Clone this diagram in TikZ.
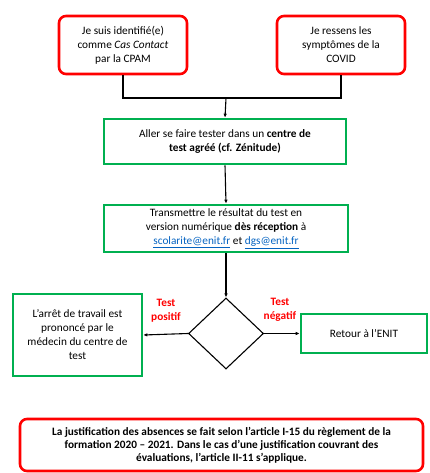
\documentclass[tikz,border=0pt]{standalone}
\usepackage{fontspec}
\setmainfont{Carlito}
\usetikzlibrary{arrows.meta, shapes.geometric}
\definecolor{rouge}{RGB}{255,0,0}
\definecolor{vert}{RGB}{0,176,80}
\definecolor{lien}{RGB}{5,99,193}
\def\lien#1{\textcolor{lien}{\underline{#1}}}
\tikzset{
  texte/.style={align=center, font=\fontsize{11.3}{14}\selectfont, inner sep=0pt},
  boiterouge/.style={texte, draw=rouge, line width=2.6pt, rounded corners=7pt},
  boiteverte/.style={texte, draw=vert, line width=2.6pt},
  etiquette/.style={texte, text=rouge, font=\fontsize{11.3}{14}\selectfont\bfseries},
  fleche/.style={-{Latex[length=4pt,width=3.5pt]}},
}

\begin{document}
\begin{tikzpicture}[x=1pt, y=-1pt, line width=1.1pt]
\useasboundingbox (0,0) rectangle (430,473);

\node[boiterouge, minimum width=128pt, minimum height=58pt] (cas) at (123,45)
  {Je suis identifié(e)\\comme \textit{Cas Contact}\\par la CPAM};
\node[boiterouge, minimum width=128pt, minimum height=58pt] (symptomes) at (341,45)
  {Je ressens les\\symptômes de la\\COVID};
\coordinate (jonction) at (226,98);

\node[boiteverte, minimum width=242pt, minimum height=45pt] (test) at (225,141.5)
  {Aller se faire tester dans un \textbf{centre de}\\\textbf{test agréé (cf. Zénitude)}};
\node[boiteverte, minimum width=244pt, minimum height=47pt] (resultat) at (226,228.5)
  {Transmettre le résultat du test en\\version numérique \textbf{dès réception} à\\\lien{scolarite@enit.fr} et \lien{dgs@enit.fr}};

\node[diamond, draw, minimum width=75pt, minimum height=71pt, inner sep=0pt] (choix) at (226,333.5) {};

\node[boiteverte, minimum width=129pt, minimum height=82pt] (arret) at (77.5,335)
  {L'arrêt de travail est\\prononcé par le\\médecin du centre de\\test};
\node[boiteverte, minimum width=126pt, minimum height=39pt] (retour) at (364,333.5)
  {Retour à l'ENIT};

\node[etiquette] (positif) at (166,311) {Test\\positif};
\node[etiquette] (negatif) at (280,310) {Test\\négatif};

\node[boiterouge, minimum width=403pt, minimum height=52pt, font=\fontsize{11.3}{12.8}\selectfont\bfseries] (regle) at (221.5,445)
  {La justification des absences se fait selon l'article I-15 du règlement de la\\
   formation 2020 -- 2021. Dans le cas d'une justification couvrant des\\
   évaluations, l'article II-11 s'applique.};

\draw (cas.south) |- (jonction) -| (symptomes.south);
\draw[fleche] (jonction) -- (test.north);
\draw[fleche] (test.south) -- (resultat.north);
\draw[fleche] (resultat.south) -- (choix.north);
\draw[fleche] (choix.west) -- (arret.east);
\draw[fleche] (choix.east) -- (retour.west);
\end{tikzpicture}
\end{document}
